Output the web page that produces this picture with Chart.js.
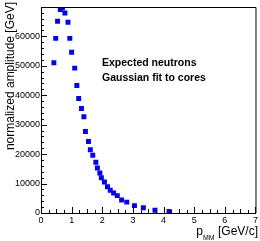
<!DOCTYPE html>
<html>
<head>
<meta charset="utf-8">
<script src="https://cdn.jsdelivr.net/npm/chart.js@4/dist/chart.umd.min.js"></script>
<style>
  html, body { margin: 0; padding: 0; background: #fff; }
  #wrap { width: 260px; height: 241px; }
</style>
</head>
<body>
<div id="wrap"><canvas id="chart" width="260" height="241"></canvas></div>
<script>
// data
const pMM = [0.42, 0.48, 0.54, 0.63, 0.70, 0.78, 0.88, 0.94, 1.00, 1.10, 1.17,
             1.23, 1.32, 1.40, 1.45, 1.55, 1.61, 1.69, 1.79, 1.84, 1.92, 1.97,
             2.07, 2.17, 2.26, 2.37, 2.49, 2.63, 2.80, 3.05, 3.34, 3.72, 4.18];
const amplitude = [51000, 59300, 65100, 69100, 69700, 67900, 64800, 59300, 54600,
                   49200, 43300, 38900, 35500, 32700, 27700, 24300, 21500, 19600,
                   17200, 15300, 13600, 12000, 10500, 8900, 7700, 6800, 5900, 4400,
                   3700, 2500, 1800, 900, 550];
const xTickValues = [0, 1, 2, 3, 4, 5, 6, 7];
const yTickValues = [0, 10000, 20000, 30000, 40000, 50000, 60000];
const legendLines = ['Expected neutrons', 'Gaussian fit to cores'];
const yTitle = 'normalized amplitude [GeV]';

const points = pMM.map((x, i) => ({ x: x, y: amplitude[i] }));
const FONT = '"Liberation Sans", Arial, sans-serif';

// ROOT-like frame: ticks pointing inwards, plain top/right border, titles
const rootFrame = {
    id: 'rootFrame',
    afterDraw(chart) {
        const ctx = chart.ctx;
        const a = chart.chartArea;
        const xs = chart.scales.x, ys = chart.scales.y;
        ctx.save();
        ctx.strokeStyle = '#000';
        ctx.lineWidth = 1;
        ctx.beginPath();
        // top + right border
        ctx.moveTo(a.left, a.top + 0.5);
        ctx.lineTo(a.right + 0.5, a.top + 0.5);
        ctx.lineTo(a.right + 0.5, a.bottom);
        // x ticks
        for (let v = 0; v <= 7.001; v += 0.25) {
            const px = Math.round(xs.getPixelForValue(v)) + 0.5;
            const frac = v % 1;
            const len = frac < 0.01 ? 6 : (Math.abs(frac - 0.5) < 0.01 ? 4 : 3);
            ctx.moveTo(px, a.bottom);
            ctx.lineTo(px, a.bottom - len);
        }
        // y ticks
        for (let v = 0; v <= ys.max; v += 2000) {
            const py = Math.round(ys.getPixelForValue(v)) + 0.5;
            const len = v % 10000 === 0 ? 6 : 3;
            ctx.moveTo(a.left, py);
            ctx.lineTo(a.left + len, py);
        }
        ctx.stroke();

        // legend text
        ctx.fillStyle = '#000';
        ctx.font = 'bold 10.5px ' + FONT;
        ctx.textBaseline = 'middle';
        ctx.textAlign = 'left';
        ctx.fillText(legendLines[0], 102, 63);
        ctx.fillText(legendLines[1], 102, 78);

        // y title
        ctx.font = '12px ' + FONT;
        ctx.save();
        ctx.translate(11, 2);
        ctx.rotate(-Math.PI / 2);
        ctx.textAlign = 'right';
        ctx.textBaseline = 'middle';
        ctx.fillText(yTitle, 0, 0);
        ctx.restore();

        // x title with subscript
        ctx.textBaseline = 'alphabetic';
        ctx.textAlign = 'left';
        const main = ' [GeV/c]';
        ctx.font = '12px ' + FONT;
        const wMain = ctx.measureText(main).width;
        const wP = ctx.measureText('p').width;
        ctx.font = '7px ' + FONT;
        const wSub = ctx.measureText('MM').width;
        const x0 = 258 - wMain - wSub - wP;
        ctx.font = '12px ' + FONT;
        ctx.fillText('p', x0, 235);
        ctx.font = '7px ' + FONT;
        ctx.fillText('MM', x0 + wP, 240);
        ctx.font = '12px ' + FONT;
        ctx.fillText(main, x0 + wP + wSub, 235);
        ctx.restore();
    }
};

const ctx = document.getElementById('chart').getContext('2d');
new Chart(ctx, {
    type: 'scatter',
    data: {
        datasets: [{
            data: points,
            pointStyle: 'rect',
            pointRadius: 3.5,
            pointHoverRadius: 3.5,
            borderWidth: 0,
            backgroundColor: '#0000ff',
            borderColor: '#0000ff'
        }]
    },
    options: {
        responsive: false,
        animation: false,
        events: [],
        layout: { padding: { top: 7, right: 3, left: 0, bottom: 0 } },
        plugins: { legend: { display: false }, tooltip: { enabled: false } },
        scales: {
            x: {
                type: 'linear',
                min: 0,
                max: 7,
                grid: { display: false, drawTicks: false },
                border: { display: true, color: '#000', width: 1 },
                afterBuildTicks(scale) { scale.ticks = xTickValues.map(v => ({ value: v })); },
                ticks: {
                    padding: 2,
                    color: '#000',
                    maxRotation: 0,
                    callback: v => String(v),
                    font: { family: FONT, size: 9 }
                },
                afterFit(scale) { scale.height = 28; }
            },
            y: {
                type: 'linear',
                min: 0,
                max: 69950,
                grid: { display: false, drawTicks: false },
                border: { display: true, color: '#000', width: 1 },
                afterBuildTicks(scale) { scale.ticks = yTickValues.map(v => ({ value: v })); },
                ticks: {
                    padding: 1,
                    color: '#000',
                    callback: v => String(v),
                    font: { family: FONT, size: 9 }
                },
                afterFit(scale) { scale.width = 41; }
            }
        }
    },
    plugins: [rootFrame]
});
</script>
</body>
</html>
